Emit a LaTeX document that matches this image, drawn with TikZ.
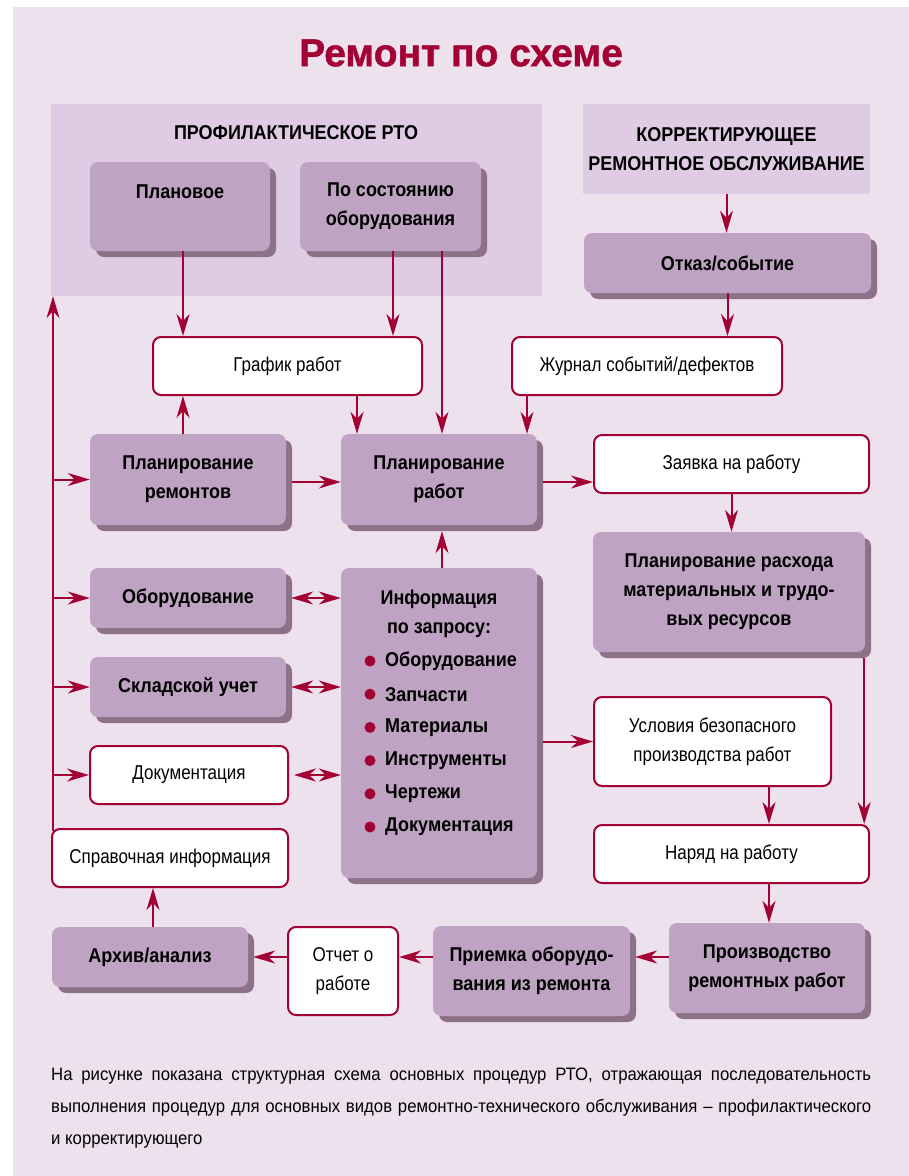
\documentclass[tikz,border=0pt]{standalone}
\usepackage{fontspec}
\setmainfont{Liberation Sans}[FakeStretch=0.85,BoldFeatures={FakeStretch=0.9}]
\newfontfamily\titlefont{Liberation Sans}[FakeBold=1.2]
\newfontfamily\capfont{Liberation Sans}[FakeStretch=0.93]
\usetikzlibrary{arrows.meta,shadows}
\definecolor{bgpanel}{RGB}{237,225,238}
\definecolor{grpfill}{RGB}{223,203,227}
\definecolor{boxfill}{RGB}{191,163,195}
\definecolor{boxshade}{RGB}{141,113,137}
\definecolor{darkred}{RGB}{163,0,52}
\newcommand{\boxfont}{\fontsize{20}{29}\selectfont}

\begin{document}
\begin{tikzpicture}[x=1pt,y=-1pt,
  box/.style={fill=boxfill,rounded corners=8pt,inner sep=0pt,align=center,font=\boxfont\bfseries,
    drop shadow={shadow xshift=6pt,shadow yshift=-6pt,fill=boxshade,opacity=1}},
  wbox/.style={fill=white,draw=darkred,line width=2pt,rounded corners=8pt,inner sep=0pt,align=center,font=\boxfont},
  grp/.style={fill=grpfill,inner sep=0pt,align=center,font=\boxfont\bfseries},
  arr/.style={draw=darkred,line width=2pt,-{Stealth[length=22pt,width=13pt,inset=7pt]}},
  darr/.style={draw=darkred,line width=2pt,{Stealth[length=22pt,width=13pt,inset=7pt]}-{Stealth[length=22pt,width=13pt,inset=7pt]}}]
  \fill[white] (0,0) rectangle (909,1176);
  \useasboundingbox (0,0) rectangle (909,1176);
  \fill[bgpanel] (13,7) rectangle (909,1176);
  \node[text=darkred,font=\titlefont\fontsize{39}{39}\selectfont\bfseries] (title) at (461,53) {Ремонт по схеме};
  \node[grp,minimum width=491pt,minimum height=192pt] (grpP) at (296.5,200) {};
  \node[font=\boxfont\bfseries] (hdrP) at (296,133) {ПРОФИЛАКТИЧЕСКОЕ РТО};
  \node[grp,minimum width=287pt,minimum height=90pt] (grpK) at (726.5,149) {КОРРЕКТИРУЮЩЕЕ\\РЕМОНТНОЕ ОБСЛУЖИВАНИЕ};
  \node[box,minimum width=180pt,minimum height=89pt] (plan) at (180,206.5) {Плановое\\~};
  \node[box,minimum width=181pt,minimum height=89pt] (sost) at (390.5,206.5) {По состоянию\\оборудования};
  \node[box,minimum width=287pt,minimum height=60pt] (otkaz) at (727.5,263) {Отказ/событие};
  \node[wbox,minimum width=269pt,minimum height=58pt] (graf) at (287.5,366) {График работ};
  \node[wbox,minimum width=270pt,minimum height=58pt] (zhurn) at (647,366) {Журнал событий/дефектов};
  \node[box,minimum width=196pt,minimum height=91pt] (planR) at (188,479.5) {Планирование\\ремонтов};
  \node[box,minimum width=196pt,minimum height=91pt] (planW) at (439,479.5) {Планирование\\работ};
  \node[wbox,minimum width=275pt,minimum height=58pt] (zayav) at (731.5,464) {Заявка на работу};
  \node[box,minimum width=272pt,minimum height=120pt] (rashod) at (729,592) {Планирование расхода\\материальных и трудо-\\вых ресурсов};
  \node[box,minimum width=196pt,minimum height=60pt] (oborud) at (188,598) {Оборудование};
  \node[box,minimum width=196pt,minimum height=60pt] (sklad) at (188,687) {Складской учет};
  \node[wbox,minimum width=198pt,minimum height=58pt] (dokum) at (189,775) {Документация};
  \node[box,minimum width=196pt,minimum height=310pt] (info) at (439,723) {};
  \node[font=\boxfont\bfseries,align=center] (infoH) at (439,613.5) {Информация\\по запросу:};
  \foreach \t [count=\i] in {Оборудование,Запчасти,Материалы,Инструменты,Чертежи,Документация}{
    \node[font=\boxfont\bfseries,anchor=west,inner sep=0pt] (item\i) at (385,627.8+33.2*\i) {\t};
    \fill[darkred] ([xshift=-15pt]item\i.west) circle (5.5pt);
  }
  \node[wbox,minimum width=237pt,minimum height=89pt] (uslov) at (712.5,741.5) {Условия безопасного\\производства работ};
  \node[wbox,minimum width=275pt,minimum height=58pt] (naryad) at (731.5,854) {Наряд на работу};
  \node[wbox,minimum width=236pt,minimum height=58pt] (sprav) at (170,858) {Справочная информация};
  \node[box,minimum width=196pt,minimum height=90pt] (proizv) at (767,968) {Производство\\ремонтных работ};
  \node[box,minimum width=197pt,minimum height=90pt] (priem) at (531.5,971) {Приемка оборудо-\\вания из ремонта};
  \node[wbox,minimum width=110pt,minimum height=88pt] (otchet) at (343,971) {Отчет о\\работе};
  \node[box,minimum width=196pt,minimum height=60pt] (arhiv) at (150,957) {Архив/анализ};
  \node[text width=820pt,align=justify,anchor=north west,inner sep=0pt,
    font=\capfont\fontsize{18}{32}\selectfont] (caption) at (51,1068) {\hyphenpenalty=10000
    На рисунке показана структурная схема основных процедур РТО, отражающая последовательность\linebreak
    выполнения процедур для основных видов ремонтно-технического обслуживания – профилактического\linebreak
    и корректирующего};
  \draw[arr] ([xshift=3pt]plan.south) -- ([xshift=3pt]plan.south |- graf.north);
  \draw[arr] ([xshift=2.5pt]sost.south) -- ([xshift=2.5pt]sost.south |- graf.north);
  \draw[arr] ([xshift=3pt]planW.north |- sost.south) -- ([xshift=3pt]planW.north);
  \draw[arr] (grpK.south) -- (grpK.south |- otkaz.north);
  \draw[arr] (otkaz.south) -- (otkaz.south |- zhurn.north);
  \draw[arr] ([xshift=-5pt]planR.north) -- ([xshift=-5pt]planR.north |- graf.south);
  \draw[arr] ([xshift=-82pt]planW.north |- graf.south) -- ([xshift=-82pt]planW.north);
  \draw[arr] ([xshift=88pt]planW.north |- zhurn.south) -- ([xshift=88pt]planW.north);
  \coordinate (L) at ([xshift=2pt,yshift=-3pt]sprav.north west);
  \draw[arr] (L) -- (L |- grpP.south);
  \foreach \n in {planR,oborud,sklad,dokum}
    \draw[arr] (L |- \n.west) -- (\n.west);
  \draw[arr] ([xshift=6pt,yshift=-2.5pt]planR.east) -- ([yshift=-2.5pt]planR.east -| planW.west);
  \draw[arr] ([xshift=6pt,yshift=-2.5pt]planW.east) -- ([yshift=-2.5pt]planW.east -| zayav.west);
  \draw[arr] (zayav.south) -- (zayav.south |- rashod.north);
  \draw[arr] ([xshift=3pt]info.north) -- ([xshift=3pt,yshift=-6pt]planW.south);
  \foreach \n in {oborud,sklad,dokum}
    \draw[darr] ([xshift=5pt]\n.east) -- (\n.east -| info.west);
  \draw[arr] ([xshift=6pt]uslov.west -| info.east) -- (uslov.west);
  \draw[arr] ([xshift=2pt]proizv.north |- uslov.south) -- ([xshift=2pt]proizv.north |- naryad.north);
  \draw[arr] ([xshift=-1pt,yshift=-6pt]rashod.south east) -- ([xshift=-1pt]rashod.south east |- naryad.north);
  \draw[arr] ([xshift=2pt]proizv.north |- naryad.south) -- ([xshift=2pt]proizv.north);
  \draw[arr] (proizv.west |- arhiv.east) -- ([xshift=5pt]priem.east |- arhiv.east);
  \draw[arr] (priem.west |- arhiv.east) -- (otchet.east |- arhiv.east);
  \draw[arr] (otchet.west |- arhiv.east) -- ([xshift=5pt]arhiv.east);
  \draw[arr] ([xshift=3pt]arhiv.north) -- ([xshift=3pt]arhiv.north |- sprav.south);
\end{tikzpicture}
\end{document}
